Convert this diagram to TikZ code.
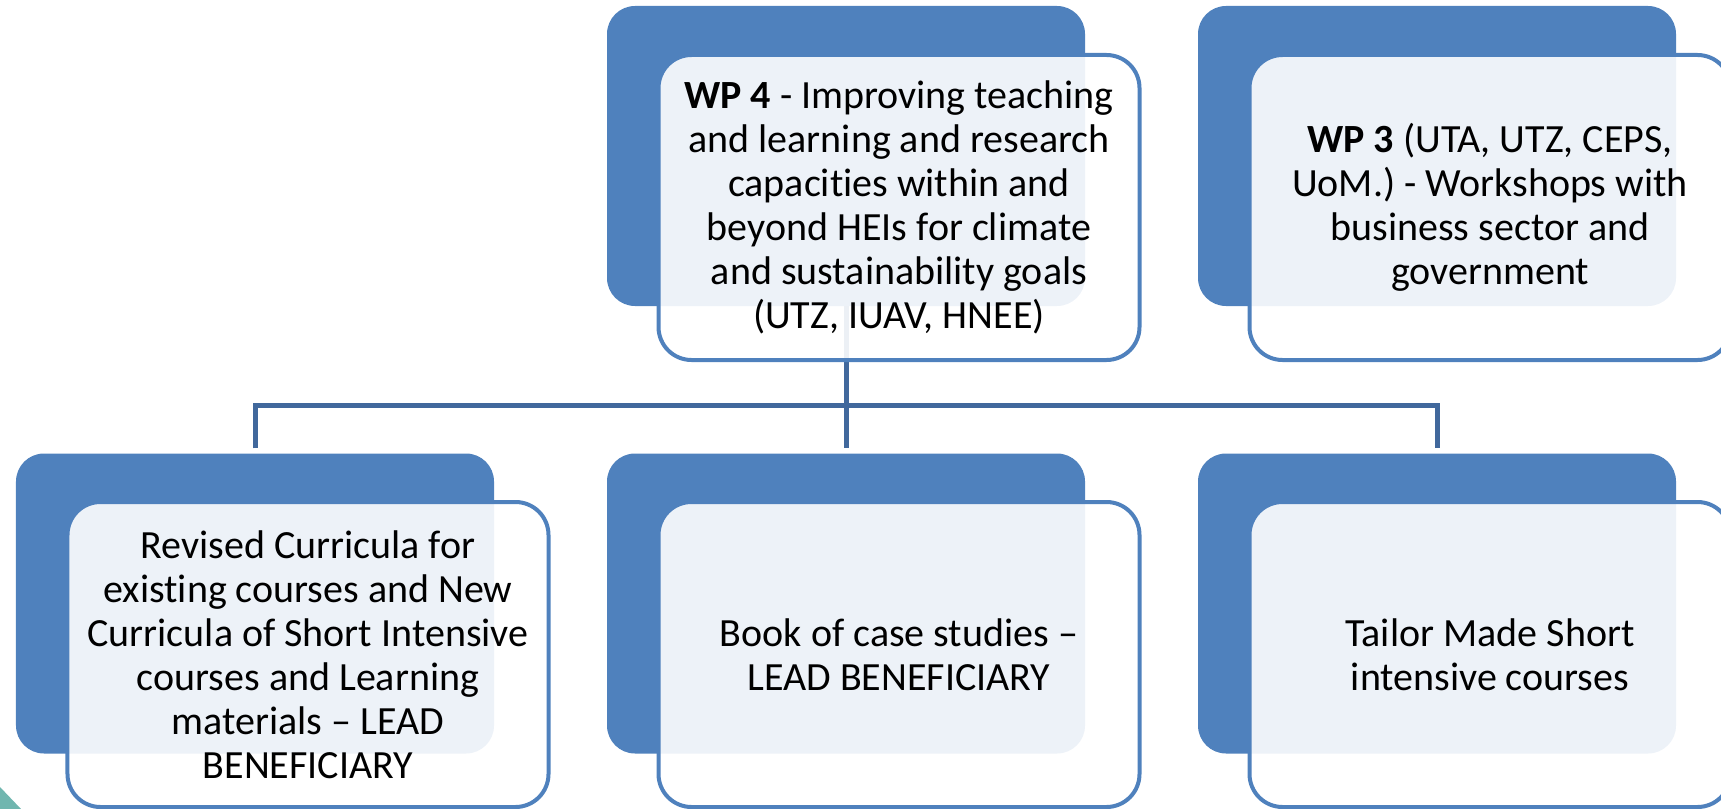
\documentclass[tikz,border=0pt]{standalone}
\usepackage{fontspec}
\setmainfont{Carlito}[Ligatures=NoCommon]
\usetikzlibrary{backgrounds}
\definecolor{accent}{HTML}{4F81BD}
\definecolor{connc}{HTML}{41689C}
\definecolor{tealc}{HTML}{70B6AF}
\begin{document}
\begin{tikzpicture}[x=1bp,y=-1bp,
  backbox/.style={fill=accent, draw=none, rounded corners=28bp, minimum width=478bp, minimum height=300bp, inner sep=0pt},
  frontbox/.style={fill=white, fill opacity=0.9, text opacity=1, draw=accent, line width=4bp, rounded corners=33bp, minimum width=481bp, minimum height=305bp, inner sep=0pt, align=center, font=\fontsize{40bp}{44bp}\selectfont},
  conn/.style={draw=connc, line width=5bp, line join=miter}]
\path[use as bounding box] (0,0) rectangle (1721,809);
\clip (0,0) rectangle (1721,809);
\fill[tealc] (0,787) -- (21,809) -- (0,809) -- cycle;
\coordinate (bus) at (0,405.5);
% back boxes
\node[backbox] (b4) at (846,156) {};
\node[backbox] (b3) at (1437,156) {};
\node[backbox] (bL) at (255,603.5) {};
\node[backbox] (bM) at (846,603.5) {};
\node[backbox] (bR) at (1437,603.5) {};
% front boxes
\node[frontbox] (f4) at (899,207.5) {\textbf{WP 4} - Improving teaching\\and learning and research\\capacities within and\\beyond HEIs for climate\\and sustainability goals\\(UTZ, IUAV, HNEE)};
\node[frontbox] (f3) at (1490,207.5) {\textbf{WP 3} (UTA, UTZ, CEPS,\\UoM.) - Workshops with\\business sector and\\government};
\node[frontbox] (fL) at (308,654.5) {Revised Curricula for\\existing courses and New\\Curricula of Short Intensive\\courses and Learning\\materials – LEAD\\BENEFICIARY};
\node[frontbox] (fM) at (899,654.5) {Book of case studies –\\LEAD BENEFICIARY};
\node[frontbox] (fR) at (1490,654.5) {Tailor Made Short\\intensive courses};
% connectors
\begin{scope}[on background layer]
\draw[conn] (b4.south) -- ([yshift=5bp]bM.north);
\draw[conn] ([yshift=5bp]bL.north) -- (bL.north |- bus) -- (bR.north |- bus) -- ([yshift=5bp]bR.north);
\end{scope}
\end{tikzpicture}
\end{document}
